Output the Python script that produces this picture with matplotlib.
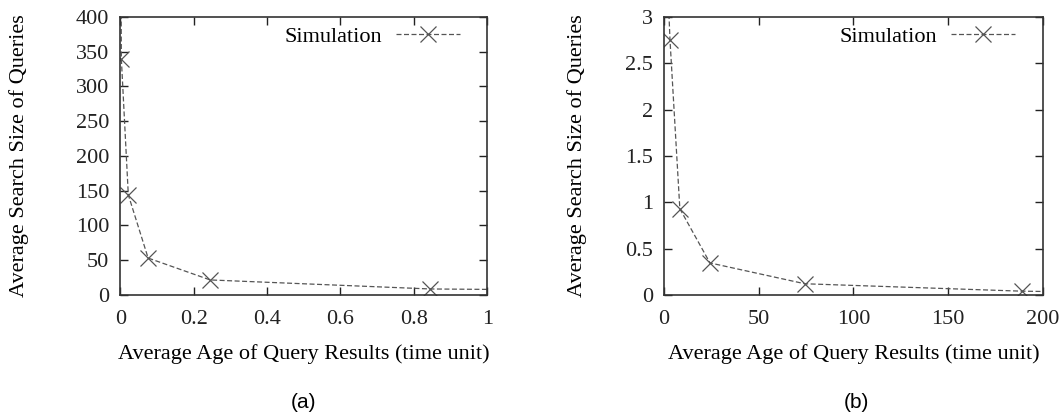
import matplotlib.pyplot as plt

plt.rcParams['font.family'] = 'Liberation Serif'

# panel (a): search size vs age, x in time units (first/last points run off the axes)
age_a = [0.001, 0.003, 0.022, 0.076, 0.245, 0.845, 1.5]
size_a = [600, 340, 144, 53, 21.5, 8.5, 6]

# panel (b)
age_b = [1.5, 3.2, 8.4, 24.3, 74.4, 189, 260]
size_b = [3.6, 2.75, 0.93, 0.345, 0.12, 0.04, 0.02]

fig = plt.figure(figsize=(10.64, 4.13), dpi=100)
ax1 = fig.add_axes([0.113, 0.286, 0.345, 0.673])
ax2 = fig.add_axes([0.624, 0.286, 0.356, 0.673])

def style(ax, x, y, xlim, ylim, xticks, yticks, yticklabels, xticklabels, ylab_x):
    ax.plot(x, y, color='#555555', linestyle=(0, (4, 2)), linewidth=0.9,
            marker='x', markersize=11, markeredgewidth=0.9, label='Simulation')
    ax.set_xlim(*xlim)
    ax.set_ylim(*ylim)
    ax.set_xticks(xticks)
    ax.set_xticklabels(xticklabels)
    ax.set_yticks(yticks)
    ax.set_yticklabels(yticklabels)
    ax.tick_params(direction='in', top=True, right=True, length=6, width=1,
                   labelsize=16, pad=8, colors='#222222')
    ax.tick_params(axis='x', pad=11)
    for s in ax.spines.values():
        s.set_linewidth(1.2)
        s.set_color('#333333')
    ax.set_xlabel('Average Age of Query Results (time unit)', fontsize=16, labelpad=11)
    ax.set_ylabel('Average Search Size of Queries', fontsize=16)
    ax.yaxis.set_label_coords(ylab_x, 0.5)
    ax.legend(loc='upper right', bbox_to_anchor=(0.962, 1.014), frameon=False,
              markerfirst=False, fontsize=16, handlelength=2.9,
              borderaxespad=0.2, handletextpad=0.6)

style(ax1, age_a, size_a, (0, 1), (0, 400),
      [0, 0.2, 0.4, 0.6, 0.8, 1], [0, 50, 100, 150, 200, 250, 300, 350, 400],
      ['0', '50', '100', '150', '200', '250', '300', '350', '400'],
      ['0', '0.2', '0.4', '0.6', '0.8', '1'], -0.248)
style(ax2, age_b, size_b, (0, 200), (0, 3),
      [0, 50, 100, 150, 200], [0, 0.5, 1, 1.5, 2, 2.5, 3],
      ['0', '0.5', '1', '1.5', '2', '2.5', '3'],
      ['0', '50', '100', '150', '200'], -0.203)

fig.text(0.285, 0.012, '(a)', fontsize=15, family='Liberation Sans', ha='center')
fig.text(0.805, 0.012, '(b)', fontsize=15, family='Liberation Sans', ha='center')

plt.savefig('out.png', dpi=100)
